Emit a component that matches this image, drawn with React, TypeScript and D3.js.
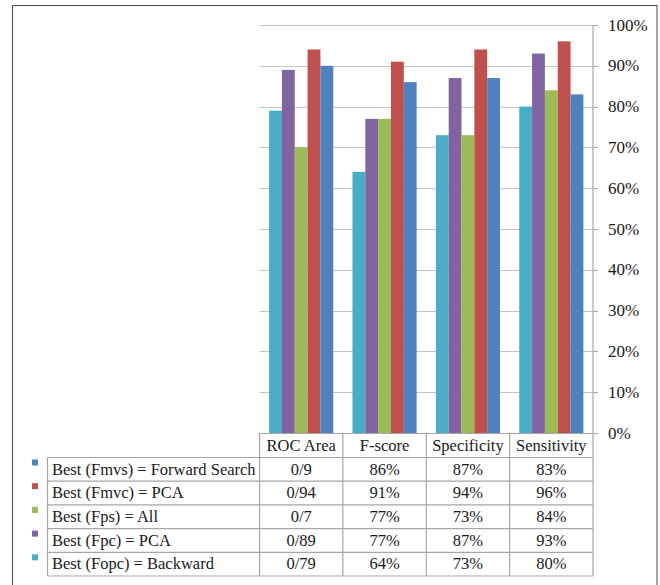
import React from "react";
import * as d3 from "d3";

const categories = ["ROC Area", "F-score", "Specificity", "Sensitivity"];
// table rows (top to bottom)
const seriesNames = [
  "Best (Fmvs) = Forward Search",
  "Best (Fmvc) = PCA",
  "Best (Fps) = All",
  "Best (Fpc) = PCA",
  "Best (Fopc) = Backward",
];
const seriesColors = ["#4F81BD", "#C0504D", "#9BBB59", "#8064A2", "#4BACC6"];
const fmvsValues = [0.9, 0.86, 0.87, 0.83];
const fmvcValues = [0.94, 0.91, 0.94, 0.96];
const fpsValues = [0.7, 0.77, 0.73, 0.84];
const fpcValues = [0.89, 0.77, 0.87, 0.93];
const fopcValues = [0.79, 0.64, 0.73, 0.8];
const tableLabels = [
  ["0/9", "86%", "87%", "83%"],
  ["0/94", "91%", "94%", "96%"],
  ["0/7", "77%", "73%", "84%"],
  ["0/89", "77%", "87%", "93%"],
  ["0/79", "64%", "73%", "80%"],
];
const yTicks = [0, 0.1, 0.2, 0.3, 0.4, 0.5, 0.6, 0.7, 0.8, 0.9, 1.0];

const seriesValues = [fmvsValues, fmvcValues, fpsValues, fpcValues, fopcValues];
// bars are drawn in reverse order of the table rows
const barOrder = [4, 3, 2, 1, 0];

const FONT = "Liberation Serif";

export default function App() {
  const W = 660;
  const H = 585;
  const plotLeft = 259.5;
  const plotRight = 593;
  const plotTop = 25;
  const plotBottom = 433;
  const headerBottom = 457.5;
  const tableBottom = 576;
  const tableLeft = 47.5;
  const rowH = (tableBottom - headerBottom) / seriesNames.length;

  const x0 = d3.scaleBand<string>().domain(categories).range([plotLeft, plotRight]).padding(0);
  const bw = x0.bandwidth();
  const gap = (bw * 1.5) / 6.5;
  const x1 = d3
    .scaleBand<number>()
    .domain(barOrder)
    .range([gap / 2, bw - gap / 2])
    .padding(0);
  const y = d3.scaleLinear().domain([0, 1]).range([plotBottom, plotTop]);
  const fmt = d3.format(".0%");

  const gridColor = "#c4c4c4";
  const lineColor = "#a6a6a6";
  const textColor = "#1a1a1a";
  const ts: React.CSSProperties = { fontFamily: FONT, fontSize: "16.5px" };

  const colEdges = [plotLeft, ...categories.map((c) => (x0(c) as number) + bw)];

  return (
    <svg
      width={W}
      height={H}
      style={{ position: "absolute", left: 0, top: 0, background: "#fff" }}
    >
      <rect x={0} y={0} width={W} height={H} fill="#fff" />
      {/* outer frame */}
      <rect x={12.5} y={5.5} width={644.5} height={600} fill="none" stroke="#4a4a4a" strokeWidth={1} />

      {/* gridlines */}
      {yTicks.slice(1).map((t) => (
        <line
          key={"g" + t}
          x1={plotLeft}
          x2={plotRight}
          y1={Math.round(y(t)) + 0.5}
          y2={Math.round(y(t)) + 0.5}
          stroke={gridColor}
          strokeWidth={1}
        />
      ))}

      {/* bars */}
      {categories.map((c, ci) => (
        <g key={c} transform={`translate(${x0(c)},0)`}>
          {barOrder.map((si) => (
            <rect
              key={si}
              x={x1(si) as number}
              width={x1.bandwidth()}
              y={y(seriesValues[si][ci])}
              height={plotBottom - y(seriesValues[si][ci])}
              fill={seriesColors[si]}
            />
          ))}
        </g>
      ))}

      {/* right axis */}
      <line x1={plotRight} x2={plotRight} y1={plotTop} y2={plotBottom} stroke={lineColor} strokeWidth={1.2} />
      {yTicks.map((t) => (
        <g key={"t" + t}>
          <line
            x1={plotRight}
            x2={plotRight + 5}
            y1={Math.round(y(t)) + 0.5}
            y2={Math.round(y(t)) + 0.5}
            stroke={lineColor}
            strokeWidth={1}
          />
          <text x={608} y={y(t) + 5.5} style={{ ...ts, fontSize: "17px" }} fill={textColor}>
            {fmt(t)}
          </text>
        </g>
      ))}

      {/* data table */}
      <line x1={plotLeft} x2={plotRight} y1={plotBottom + 0.5} y2={plotBottom + 0.5} stroke={lineColor} />
      {colEdges.map((xe, i) => (
        <line
          key={"ce" + i}
          x1={xe}
          x2={xe}
          y1={plotBottom}
          y2={tableBottom}
          stroke={lineColor}
          strokeWidth={1.2}
        />
      ))}
      <line x1={tableLeft} x2={tableLeft} y1={headerBottom} y2={tableBottom} stroke={lineColor} strokeWidth={1.2} />
      {d3.range(seriesNames.length + 1).map((i) => (
        <line
          key={"rl" + i}
          x1={tableLeft}
          x2={plotRight}
          y1={headerBottom + i * rowH}
          y2={headerBottom + i * rowH}
          stroke={lineColor}
          strokeWidth={1.2}
        />
      ))}
      {categories.map((c) => (
        <text
          key={"h" + c}
          x={(x0(c) as number) + bw / 2}
          y={plotBottom + 18}
          style={ts}
          textAnchor="middle"
          fill={textColor}
        >
          {c}
        </text>
      ))}
      {seriesNames.map((name, ri) => {
        const top = headerBottom + ri * rowH;
        return (
          <g key={name}>
            <rect x={32} y={top + 2} width={6} height={6} fill={seriesColors[ri]} />
            <text x={tableLeft + 4.5} y={top + 17} style={ts} fill={textColor}>
              {name}
            </text>
            {categories.map((c, ci) => (
              <text
                key={c}
                x={(x0(c) as number) + bw / 2}
                y={top + 17}
                style={ts}
                textAnchor="middle"
                fill={textColor}
              >
                {tableLabels[ri][ci]}
              </text>
            ))}
          </g>
        );
      })}
    </svg>
  );
}
